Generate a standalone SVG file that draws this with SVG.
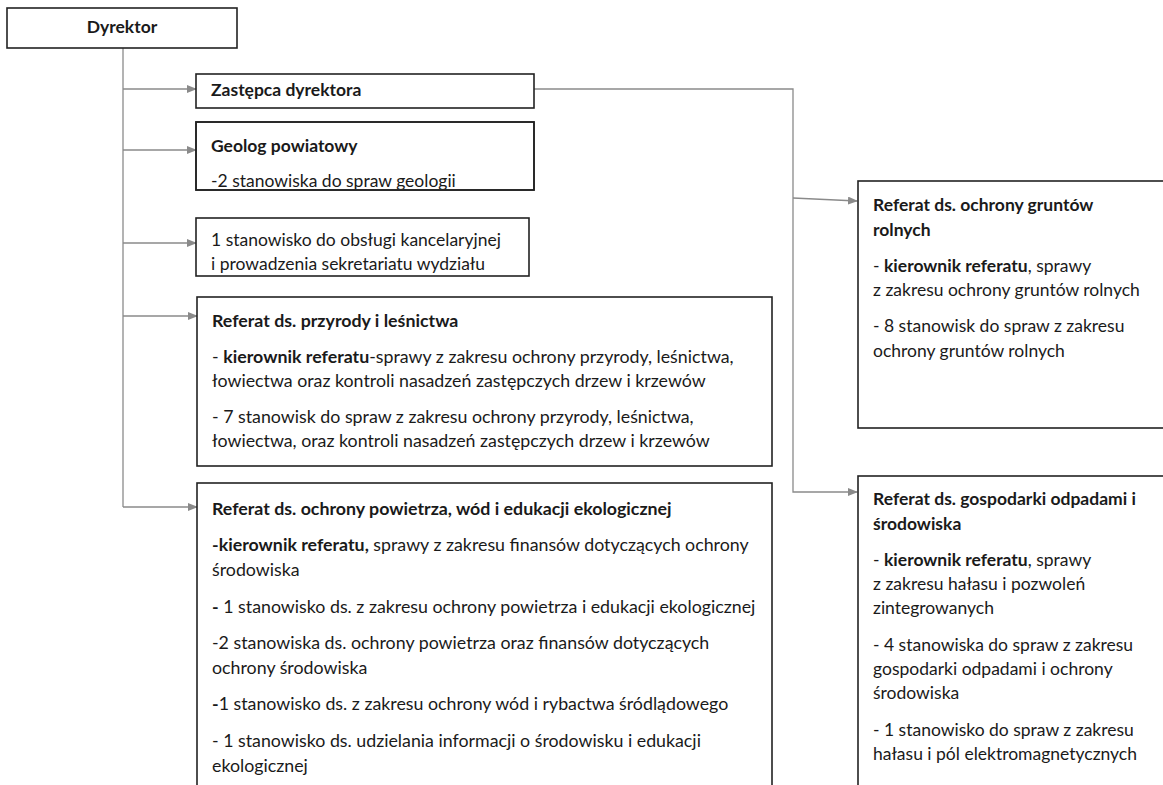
<svg xmlns="http://www.w3.org/2000/svg" width="1163" height="785" viewBox="0 0 1163 785">
<style>
.box{fill:#fff;stroke:#222;stroke-width:1.6}
.frame{fill:none;stroke:#222;stroke-width:1.6}
.t{font-family:Lato,"Open Sans",sans-serif;font-size:17.5px;fill:#1a1a1a}
.w{font-size:17.8px}
.b{font-weight:bold}
.con{fill:none;stroke:#8a8a8a;stroke-width:1.3}
</style>
<defs>
<marker id="ah" markerWidth="10" markerHeight="8" refX="9" refY="4" orient="auto" markerUnits="userSpaceOnUse">
<path d="M0,0 L10,4 L0,8 Z" fill="#8a8a8a"/>
</marker>
<clipPath id="clipGeolog"><rect x="196" y="122" width="338" height="67"/></clipPath>
</defs>
<rect width="1163" height="785" fill="#fff"/>
<g id="connectors">
<path class="con" d="M123,48 V507"/>
<path class="con" d="M123,89 H196" marker-end="url(#ah)"/>
<path class="con" d="M123,150 H196" marker-end="url(#ah)"/>
<path class="con" d="M123,243 H196" marker-end="url(#ah)"/>
<path class="con" d="M123,316 H197" marker-end="url(#ah)"/>
<path class="con" d="M123,507 H197" marker-end="url(#ah)"/>
<path class="con" d="M534,89 H793 V492 H857" marker-end="url(#ah)"/>
<path class="con" d="M793,198 L857,201" marker-end="url(#ah)"/>
</g>
<g id="dyrektor">
<rect class="box" x="7" y="8" width="230" height="40"/>
<text class="t b" x="122" y="33" text-anchor="middle">Dyrektor</text>
</g>
<g id="zastepca">
<rect class="box" x="196" y="74" width="338" height="34"/>
<text class="t b" x="211" y="96">Zastępca dyrektora</text>
</g>
<g id="geolog">
<rect class="box" x="196" y="122" width="338" height="68"/>
<g clip-path="url(#clipGeolog)">
<text class="t b" x="211" y="152">Geolog powiatowy</text>
<text class="t" x="211" y="187">-2 stanowiska do spraw geologii</text>
</g>
<rect class="frame" x="196" y="122" width="338" height="68"/>
</g>
<g id="kancelaria">
<rect class="box" x="196" y="218" width="333" height="58"/>
<text class="t" x="211" y="246">1 stanowisko do obsługi kancelaryjnej</text>
<text class="t" x="211" y="270">i prowadzenia sekretariatu wydziału</text>
</g>
<g id="przyroda">
<rect class="box" x="197" y="297" width="575" height="169"/>
<text class="t w b" x="212" y="327">Referat ds. przyrody i leśnictwa</text>
<text class="t w" x="212" y="363">- <tspan class="b">kierownik referatu</tspan>-sprawy z zakresu ochrony przyrody, leśnictwa,</text>
<text class="t w" x="212" y="387">łowiectwa oraz kontroli nasadzeń zastępczych drzew i krzewów</text>
<text class="t w" x="212" y="423">- 7 stanowisk do spraw z zakresu ochrony przyrody, leśnictwa,</text>
<text class="t w" x="212" y="447">łowiectwa, oraz kontroli nasadzeń zastępczych drzew i krzewów</text>
</g>
<g id="powietrze">
<rect class="box" x="197" y="483" width="575" height="310"/>
<text class="t w b" x="212" y="515">Referat ds. ochrony powietrza, wód i edukacji ekologicznej</text>
<text class="t w" x="212" y="551"><tspan class="b">-kierownik referatu,</tspan> sprawy z zakresu finansów dotyczących ochrony</text>
<text class="t w" x="212" y="576">środowiska</text>
<text class="t w" x="212" y="613"><tspan class="b">-</tspan> 1 stanowisko ds. z zakresu ochrony powietrza i edukacji ekologicznej</text>
<text class="t w" x="212" y="649">-2 stanowiska ds. ochrony powietrza oraz finansów dotyczących</text>
<text class="t w" x="212" y="674">ochrony środowiska</text>
<text class="t w" x="212" y="710"><tspan class="b">-</tspan>1 stanowisko ds. z zakresu ochrony wód i rybactwa śródlądowego</text>
<text class="t w" x="212" y="747">- 1 stanowisko ds. udzielania informacji o środowisku i edukacji</text>
<text class="t w" x="212" y="772">ekologicznej</text>
</g>
<g id="grunty">
<rect class="box" x="858" y="181" width="310" height="247"/>
<text class="t b" x="873" y="211">Referat ds. ochrony gruntów</text>
<text class="t b" x="873" y="236">rolnych</text>
<text class="t" x="873" y="272">- <tspan class="b">kierownik referatu</tspan>, sprawy</text>
<text class="t" x="873" y="296">z zakresu ochrony gruntów rolnych</text>
<text class="t" x="873" y="332">- 8 stanowisk do spraw z zakresu</text>
<text class="t" x="873" y="357">ochrony gruntów rolnych</text>
</g>
<g id="odpady">
<rect class="box" x="858" y="476" width="310" height="320"/>
<text class="t b" x="873" y="505">Referat ds. gospodarki odpadami i</text>
<text class="t b" x="873" y="530">środowiska</text>
<text class="t" x="873" y="566">- <tspan class="b">kierownik referatu</tspan>, sprawy</text>
<text class="t" x="873" y="590">z zakresu hałasu i pozwoleń</text>
<text class="t" x="873" y="614">zintegrowanych</text>
<text class="t" x="873" y="651">- 4 stanowiska do spraw z zakresu</text>
<text class="t" x="873" y="675">gospodarki odpadami i ochrony</text>
<text class="t" x="873" y="699">środowiska</text>
<text class="t" x="873" y="736">- 1 stanowisko do spraw z zakresu</text>
<text class="t" x="873" y="760">hałasu i pól elektromagnetycznych</text>
</g>
</svg>
